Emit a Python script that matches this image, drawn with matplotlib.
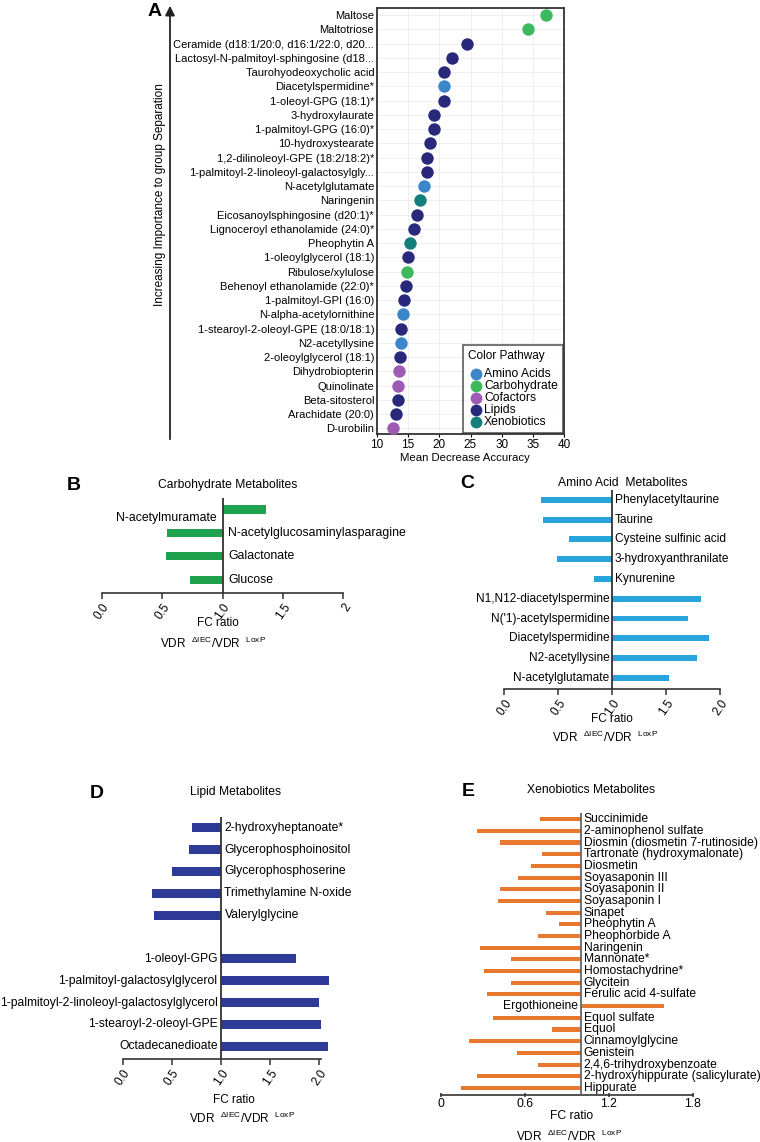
import matplotlib
matplotlib.use('Agg')
import matplotlib.pyplot as plt
import numpy as np

plt.rcParams['font.family'] = ['Liberation Sans', 'DejaVu Sans']
plt.rcParams['mathtext.fontset'] = 'custom'
plt.rcParams['mathtext.rm'] = 'Liberation Sans'
plt.rcParams['mathtext.it'] = 'Liberation Sans'

# ---------------- Panel A data ----------------
a_metabolites = [
    'Maltose', 'Maltotriose', 'Ceramide (d18:1/20:0, d16:1/22:0, d20...',
    'Lactosyl-N-palmitoyl-sphingosine (d18...', 'Taurohyodeoxycholic acid',
    'Diacetylspermidine*', '1-oleoyl-GPG (18:1)*', '3-hydroxylaurate',
    '1-palmitoyl-GPG (16:0)*', '10-hydroxystearate', '1,2-dilinoleoyl-GPE (18:2/18:2)*',
    '1-palmitoyl-2-linoleoyl-galactosylgly...', 'N-acetylglutamate', 'Naringenin',
    'Eicosanoylsphingosine (d20:1)*', 'Lignoceroyl ethanolamide (24:0)*', 'Pheophytin A',
    '1-oleoylglycerol (18:1)', 'Ribulose/xylulose', 'Behenoyl ethanolamide (22:0)*',
    '1-palmitoyl-GPI (16:0)', 'N-alpha-acetylornithine', '1-stearoyl-2-oleoyl-GPE (18:0/18:1)',
    'N2-acetyllysine', '2-oleoylglycerol (18:1)', 'Dihydrobiopterin', 'Quinolinate',
    'Beta-sitosterol', 'Arachidate (20:0)', 'D-urobilin']
a_mda = [37.1, 34.3, 24.5, 22.1, 20.7, 20.7, 20.7, 19.2, 19.1, 18.5, 18.0, 18.0, 17.6, 16.9,
         16.4, 15.9, 15.3, 15.0, 14.8, 14.6, 14.4, 14.2, 13.9, 13.9, 13.7, 13.6, 13.4, 13.4,
         13.1, 12.6]
a_pathway = ['Carbohydrate', 'Carbohydrate', 'Lipids', 'Lipids', 'Lipids', 'Amino Acids',
             'Lipids', 'Lipids', 'Lipids', 'Lipids', 'Lipids', 'Lipids', 'Amino Acids',
             'Xenobiotics', 'Lipids', 'Lipids', 'Xenobiotics', 'Lipids', 'Carbohydrate',
             'Lipids', 'Lipids', 'Amino Acids', 'Lipids', 'Amino Acids', 'Lipids',
             'Cofactors', 'Cofactors', 'Lipids', 'Lipids', 'Cofactors']
pathway_order = ['Amino Acids', 'Carbohydrate', 'Cofactors', 'Lipids', 'Xenobiotics']
pathway_colors = {'Amino Acids': '#3b86c9', 'Carbohydrate': '#3cb95c', 'Cofactors': '#9d5bb3',
                  'Lipids': '#28297a', 'Xenobiotics': '#137e7b'}
a_xticks = [10, 15, 20, 25, 30, 35, 40]

# ---------------- Panel B data ----------------
b_names = ['N-acetylmuramate', 'N-acetylglucosaminylasparagine', 'Galactonate', 'Glucose']
b_fc = [1.36, 0.54, 0.53, 0.735]
b_ticks = [0.0, 0.5, 1.0, 1.5, 2.0]
b_ticklabels = ['0.0', '0.5', '1.0', '1.5', '2']

# ---------------- Panel C data ----------------
c_names = ['Phenylacetyltaurine', 'Taurine', 'Cysteine sulfinic acid', '3-hydroxyanthranilate',
           'Kynurenine', 'N1,N12-diacetylspermine', "N('1)-acetylspermidine",
           'Diacetylspermidine', 'N2-acetyllysine', 'N-acetylglutamate']
c_fc = [0.34, 0.36, 0.60, 0.485, 0.835, 1.82, 1.705, 1.895, 1.785, 1.53]
c_ticks = [0.0, 0.5, 1.0, 1.5, 2.0]
c_ticklabels = ['0.0', '0.5', '1.0', '1.5', '2.0']

# ---------------- Panel D data ----------------
d_names = ['2-hydroxyheptanoate*', 'Glycerophosphoinositol', 'Glycerophosphoserine',
           'Trimethylamine N-oxide', 'Valerylglycine', '1-oleoyl-GPG',
           '1-palmitoyl-galactosylglycerol', '1-palmitoyl-2-linoleoyl-galactosylglycerol',
           '1-stearoyl-2-oleoyl-GPE', 'Octadecanedioate']
d_fc = [0.70, 0.67, 0.50, 0.30, 0.32, 1.76, 2.095, 2.0, 2.015, 2.085]
d_ticks = [0.0, 0.5, 1.0, 1.5, 2.0]
d_ticklabels = ['0.0', '0.5', '1.0', '1.5', '2.0']

# ---------------- Panel E data ----------------
e_names = ['Succinimide', '2-aminophenol sulfate', 'Diosmin (diosmetin 7-rutinoside)',
           'Tartronate (hydroxymalonate)', 'Diosmetin', 'Soyasaponin III', 'Soyasaponin II',
           'Soyasaponin I', 'Sinapet', 'Pheophytin A', 'Pheophorbide A', 'Naringenin',
           'Mannonate*', 'Homostachydrine*', 'Glycitein', 'Ferulic acid 4-sulfate',
           'Ergothioneine', 'Equol sulfate', 'Equol', 'Cinnamoylglycine', 'Genistein',
           '2,4,6-trihydroxybenzoate', '2-hydroxyhippurate (salicylurate)', 'Hippurate']
e_fc = [0.71, 0.26, 0.42, 0.72, 0.64, 0.55, 0.42, 0.41, 0.75, 0.84, 0.69, 0.28, 0.50, 0.31,
        0.50, 0.33, 1.59, 0.37, 0.79, 0.20, 0.54, 0.695, 0.26, 0.14]
e_ticks = [0.0, 0.6, 1.2, 1.8]
e_ticklabels = ['0', '0.6', '1.2', '1.8']

W, H = 760, 1142
fig = plt.figure(figsize=(W / 100, H / 100), dpi=100)


def ax_px(x0, x1, y0, y1):
    return fig.add_axes([x0 / W, 1 - y1 / H, (x1 - x0) / W, (y1 - y0) / H])


def ftext(x, y, s, **kw):
    return fig.text(x / W, 1 - y / H, s, **kw)


# ---------------- Panel A ----------------
axA = ax_px(377, 564, 8, 434)
ypos = np.arange(len(a_metabolites))
for p in pathway_order:
    idx = [i for i, q in enumerate(a_pathway) if q == p]
    axA.scatter([a_mda[i] for i in idx], [ypos[i] for i in idx], s=80,
                color=pathway_colors[p], label=p, zorder=3, linewidths=0)
axA.set_xlim(10, 40)
axA.set_ylim(len(a_metabolites) - 0.6, -0.5)
axA.set_yticks(ypos)
axA.set_yticklabels(a_metabolites, fontsize=8)
axA.set_xticks(a_xticks)
axA.grid(True, color='#ececec', lw=0.6)
axA.set_axisbelow(True)
axA.tick_params(axis='y', length=0, pad=2)
axA.tick_params(axis='x', length=2, labelsize=8.5, pad=1.5)
axA.set_xlabel('Mean Decrease Accuracy', fontsize=8.2, labelpad=1)
axA.xaxis.set_label_coords(0.47, -0.045)
for s in axA.spines.values():
    s.set_color('#333333')
    s.set_linewidth(1.3)
leg = axA.legend(title='Color Pathway', loc='lower right', fontsize=8.7, title_fontsize=8.5,
                 frameon=True, fancybox=False, borderaxespad=0.05, labelspacing=0.0,
                 handletextpad=0.1, handlelength=1.2, borderpad=0.45, markerscale=0.95)
leg.get_frame().set_edgecolor('#333333')
leg.get_frame().set_linewidth(1.2)
leg._legend_box.align = 'left'
leg._legend_box.sep = 4

ftext(155, 12, 'A', fontsize=14, fontweight='bold', ha='center', va='center')
ftext(160, 195, 'Increasing Importance to group Separation', rotation=90, ha='center',
      va='center', fontsize=8.5)
fig.add_artist(matplotlib.patches.FancyArrowPatch(
    (170 / W, 1 - 442 / H), (170 / W, 1 - 3 / H), transform=fig.transFigure,
    arrowstyle='-|>', mutation_scale=14, color='#222222', lw=1.3))

# ---------------- Bar panels ----------------


def bar_panel(box, names, vals, color, xlim, ticks, ticklabels, rotate, bar_h,
              spine_end, gap=False, label_dy=None, off=3, line_color='#333333', fs=8.7):
    ax = ax_px(*box)
    vals = np.asarray(vals)
    pos = np.arange(len(vals)).astype(float)
    if gap:
        pos = pos + (vals > 1)
    ax.barh(pos, vals - 1, left=1, height=bar_h, color=color, zorder=2)
    ax.set_xlim(*xlim)
    ax.set_ylim(pos.max() + 0.58, -0.5)
    ax.axvline(1, color=line_color, lw=1.3, zorder=3)
    for sname in ['top', 'right', 'left']:
        ax.spines[sname].set_visible(False)
    ax.spines['bottom'].set_color('#333333')
    ax.spines['bottom'].set_linewidth(1.2)
    ax.spines['bottom'].set_bounds(0, spine_end)
    ax.set_yticks([])
    ax.set_xticks(ticks)
    if rotate:
        ax.set_xticklabels(ticklabels, rotation=55, ha='right', va='top',
                           rotation_mode='anchor', fontsize=8.5)
        ax.tick_params(axis='x', length=4, width=1.1, color='#333333', pad=2)
    else:
        ax.set_xticklabels(ticklabels, fontsize=8.7)
        ax.tick_params(axis='x', length=3, width=1.1, color='#333333', pad=1,
                       direction='inout')
    for i, (n, v, y) in enumerate(zip(names, vals, pos)):
        dy = 0 if label_dy is None else label_dy[i]
        if v < 1:
            ax.annotate(n, (1, y + dy), xytext=(off, 0), textcoords='offset points',
                        ha='left', va='center', fontsize=fs)
        else:
            ax.annotate(n, (1, y + dy), xytext=(-off, 0), textcoords='offset points',
                        ha='right', va='center', fontsize=fs)
    return ax


vdr = r'VDR  $^{\mathregular{\Delta IEC}}$/VDR  $^{\mathregular{LoxP}}$'

# B
bar_panel((101.7, 343.3, 497.7, 593.3), b_names, b_fc, '#1fa24e', (0, 2), b_ticks,
          b_ticklabels, True, 0.35, 2.0, label_dy=[0.35, 0, 0, 0], off=4, fs=8.8)
ftext(74, 485, 'B', fontsize=14, fontweight='bold', ha='center', va='center')
ftext(227.7, 485, 'Carbohydrate Metabolites', fontsize=8.7, ha='center', va='center')
ftext(218, 623.5, 'FC ratio', fontsize=8.5, ha='center', va='center')
ftext(213, 643, vdr, fontsize=8.5, ha='center', va='center')

# C
bar_panel((504.3, 720, 490, 689.3), c_names, c_fc, '#29a3dc', (0, 2), c_ticks,
          c_ticklabels, True, 0.3, 2.0, off=2, fs=8.6)
ftext(467, 483, 'C', fontsize=14, fontweight='bold', ha='center', va='center')
ftext(622.7, 482.5, 'Amino Acid  Metabolites', fontsize=8.7, ha='center', va='center')
ftext(612, 719, 'FC ratio', fontsize=8.5, ha='center', va='center')
ftext(605, 737, vdr, fontsize=8.5, ha='center', va='center')

# D
bar_panel((122.7, 329.1, 816.7, 1059), d_names, d_fc, '#2d3b97', (0, 2.1), d_ticks,
          d_ticklabels, True, 0.41, 2.02, gap=True, off=2.5, fs=8.7)
ftext(97, 793, 'D', fontsize=14, fontweight='bold', ha='center', va='center')
ftext(235.7, 792.5, 'Lipid Metabolites', fontsize=8.7, ha='center', va='center')
ftext(234, 1100, 'FC ratio', fontsize=8.5, ha='center', va='center')
ftext(242, 1118, vdr, fontsize=8.5, ha='center', va='center')

# E
bar_panel((441, 693, 813.3, 1094.7), e_names, e_fc, '#e9782f', (0, 1.8), e_ticks,
          e_ticklabels, False, 0.35, 1.8, off=2, line_color='#666666', fs=8.7)
ftext(468, 792, 'E', fontsize=14, fontweight='bold', ha='center', va='center')
ftext(591, 790, 'Xenobiotics Metabolites', fontsize=8.7, ha='center', va='center')
ftext(571.7, 1116, 'FC ratio', fontsize=8.7, ha='center', va='center')
ftext(569, 1136, vdr, fontsize=8.5, ha='center', va='center')

fig.savefig('out.png', dpi=100)
